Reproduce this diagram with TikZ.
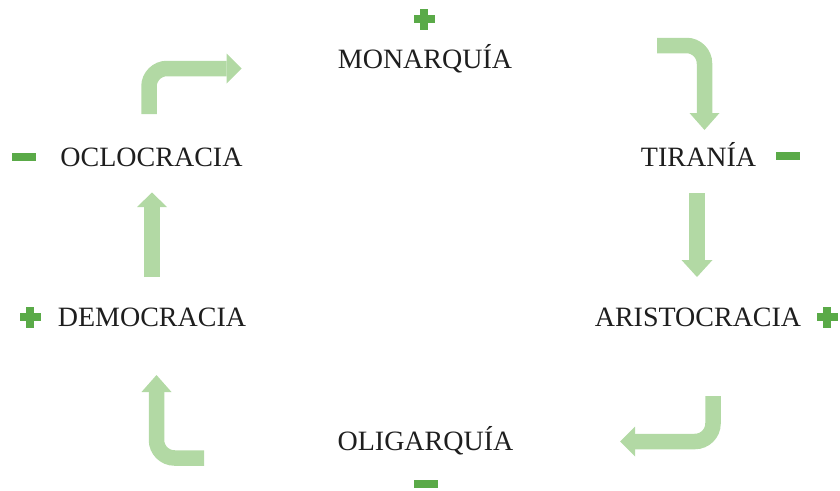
\documentclass[tikz,border=0pt]{standalone}
\usepackage{fontspec}
\setmainfont{Liberation Serif}
\definecolor{arrowgreen}{RGB}{178,217,164}
\definecolor{signgreen}{RGB}{90,170,72}
\definecolor{textgray}{RGB}{30,30,30}
\tikzset{
  label/.style={inner sep=0pt, anchor=base, text=textgray, font=\fontsize{28}{32}\selectfont},
  shaft/.style={draw=arrowgreen, line width=15.5pt, rounded corners=18pt},
  headfill/.style={fill=arrowgreen},
  plussign/.pic={\fill[signgreen] (-10.5,-3.8) rectangle (10.5,3.8); \fill[signgreen] (-3.8,-10.5) rectangle (3.8,10.5);},
  minussign/.pic={\fill[signgreen] (-12,-3.6) rectangle (12,3.6);}
}
\begin{document}
\begin{tikzpicture}[x=1pt,y=-1pt]
\useasboundingbox (0,0) rectangle (840,490);
% labels
\node[label] (mon) at (425,68) {MONARQUÍA};
\node[label] (tir) at (698.5,166.5) {TIRANÍA};
\node[label] (ari) at (698,326) {ARISTOCRACIA};
\node[label] (oli) at (425.5,450) {OLIGARQUÍA};
\node[label] (dem) at (152,326) {DEMOCRACIA};
\node[label] (ocl) at (151.5,166.5) {OCLOCRACIA};
% signs
\pic at (424,19) {plussign};
\pic at (788,156) {minussign};
\pic at (827,317) {plussign};
\pic at (426,484) {minussign};
\pic at (30,317) {plussign};
\pic at (24,157) {minussign};
% arrow 1: oclocracia -> monarquia
\coordinate (a1s) at (149,114);
\coordinate (a1c) at (149,68.5);
\coordinate (a1b) at (226.5,68.5);
\coordinate (a1t) at (241.5,68.5);
\draw[shaft] (a1s) -- (a1c) -- (a1b);
\fill[headfill] ([yshift=-15pt]a1b) -- (a1t) -- ([yshift=15pt]a1b) -- cycle;
% arrow 2: monarquia -> tirania
\coordinate (a2s) at (657,45.5);
\coordinate (a2c) at (704.5,45.5);
\coordinate (a2b) at (704.5,113);
\coordinate (a2t) at (704.5,130);
\draw[shaft] (a2s) -- (a2c) -- (a2b);
\fill[headfill] ([xshift=-15pt]a2b) -- (a2t) -- ([xshift=15pt]a2b) -- cycle;
% arrow 3: tirania -> aristocracia
\coordinate (a3s) at (697,193);
\coordinate (a3b) at (697,260);
\coordinate (a3t) at (697,277);
\draw[shaft] (a3s) -- (a3b);
\fill[headfill] ([xshift=-15.5pt]a3b) -- (a3t) -- ([xshift=15.5pt]a3b) -- cycle;
% arrow 4: aristocracia -> oligarquia
\coordinate (a4s) at (713,396);
\coordinate (a4c) at (713,441.5);
\coordinate (a4b) at (635,441.5);
\coordinate (a4t) at (620,441.5);
\draw[shaft] (a4s) -- (a4c) -- (a4b);
\fill[headfill] ([yshift=-15pt]a4b) -- (a4t) -- ([yshift=15pt]a4b) -- cycle;
% arrow 5: oligarquia -> democracia
\coordinate (a5s) at (204,458);
\coordinate (a5c) at (156.5,458);
\coordinate (a5b) at (156.5,392);
\coordinate (a5t) at (156.5,375);
\draw[shaft] (a5s) -- (a5c) -- (a5b);
\fill[headfill] ([xshift=-15pt]a5b) -- (a5t) -- ([xshift=15pt]a5b) -- cycle;
% arrow 6: democracia -> oclocracia
\coordinate (a6s) at (152,277);
\coordinate (a6b) at (152,207);
\coordinate (a6t) at (152,192.5);
\draw[shaft] (a6s) -- (a6b);
\fill[headfill] ([xshift=-15pt]a6b) -- (a6t) -- ([xshift=15pt]a6b) -- cycle;
\end{tikzpicture}
\end{document}
